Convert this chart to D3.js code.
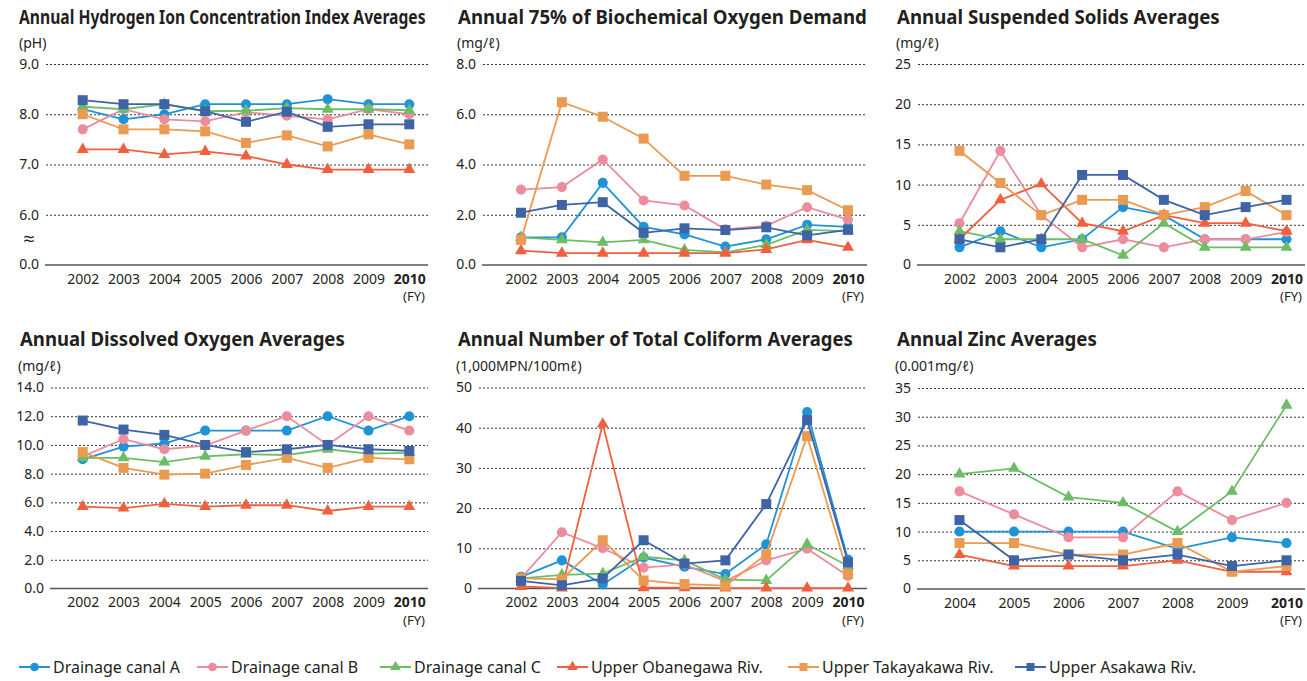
<!DOCTYPE html>
<html>
<head>
<meta charset="utf-8">
<script src="https://cdn.jsdelivr.net/npm/d3@7/dist/d3.min.js"></script>
<style>
  html, body { margin: 0; padding: 0; background: #fff; }
  svg { display: block; font-family: "Noto Sans", "Open Sans", "DejaVu Sans", sans-serif; }
</style>
</head>
<body>
<svg id="chart" width="1307" height="681"></svg>
<script>
// ---------------- DATA ----------------
const seriesNames = ["Drainage canal A", "Drainage canal B", "Drainage canal C",
  "Upper Obanegawa Riv.", "Upper Takayakawa Riv.", "Upper Asakawa Riv."];
const seriesColors = ["#1f93d6", "#ec8c9c", "#6cbd66", "#f0603f", "#eb9a52", "#3f64a5"];
const seriesShapes = ["circle", "circle", "triangle", "triangle", "square", "square"];

const years = [2002, 2003, 2004, 2005, 2006, 2007, 2008, 2009, 2010];
const zincYears = [2004, 2005, 2006, 2007, 2008, 2009, 2010];

const phTicks = [0, 6, 7, 8, 9];
const phValues = [
  [8.1, 7.9, 8.0, 8.2, 8.2, 8.2, 8.3, 8.2, 8.2],
  [7.7, 8.1, 7.9, 7.86, 8.04, 7.97, 7.9, 8.1, 8.0],
  [8.15, 8.1, 8.2, 8.06, 8.07, 8.12, 8.1, 8.1, 8.08],
  [7.3, 7.3, 7.2, 7.26, 7.17, 7.0, 6.9, 6.9, 6.9],
  [8.0, 7.7, 7.7, 7.66, 7.43, 7.58, 7.36, 7.6, 7.4],
  [8.28, 8.2, 8.2, 8.06, 7.85, 8.05, 7.75, 7.8, 7.8]
];

const bodTicks = [0, 2, 4, 6, 8];
const bodValues = [
  [1.1, 1.1, 3.27, 1.52, 1.22, 0.73, 1.02, 1.6, 1.52],
  [3.0, 3.1, 4.2, 2.57, 2.37, 1.42, 1.56, 2.3, 1.81],
  [1.1, 1.0, 0.9, 1.0, 0.6, 0.5, 0.8, 1.4, 1.35],
  [0.57, 0.47, 0.47, 0.47, 0.47, 0.47, 0.62, 1.0, 0.7],
  [1.0, 6.48, 5.9, 5.03, 3.55, 3.55, 3.2, 2.98, 2.18],
  [2.08, 2.39, 2.5, 1.28, 1.46, 1.39, 1.5, 1.18, 1.4]
];

const ssTicks = [0, 5, 10, 15, 20, 25];
const ssValues = [
  [2.2, 4.2, 2.2, 3.2, 7.2, 6.2, 3.2, 3.2, 3.2],
  [5.2, 14.2, 6.2, 2.2, 3.2, 2.2, 3.2, 3.2, 4.1],
  [4.2, 3.2, 3.2, 3.2, 1.2, 5.2, 2.2, 2.2, 2.2],
  [3.2, 8.1, 10.1, 5.2, 4.2, 6.2, 5.2, 5.2, 4.2],
  [14.2, 10.2, 6.2, 8.1, 8.1, 6.2, 7.2, 9.2, 6.2],
  [3.2, 2.2, 3.2, 11.2, 11.2, 8.1, 6.2, 7.2, 8.1]
];

const doTicks = [0, 2, 4, 6, 8, 10, 12, 14];
const doValues = [
  [9.0, 9.88, 10.1, 11.0, 11.0, 11.0, 12.0, 11.0, 12.0],
  [9.2, 10.4, 9.7, 9.95, 11.0, 12.0, 10.0, 12.0, 11.0],
  [9.1, 9.1, 8.8, 9.2, 9.35, 9.3, 9.7, 9.4, 9.45],
  [5.7, 5.6, 5.9, 5.7, 5.8, 5.8, 5.4, 5.7, 5.7],
  [9.5, 8.4, 7.93, 8.0, 8.6, 9.1, 8.4, 9.1, 9.0],
  [11.7, 11.07, 10.7, 10.0, 9.5, 9.7, 10.0, 9.7, 9.58]
];

const coliTicks = [0, 10, 20, 30, 40, 50];
const coliValues = [
  [2.9, 7.0, 1.0, 7.7, 5.4, 3.6, 11.0, 43.9, 7.2],
  [2.5, 14.0, 10.0, 5.2, 6.0, 1.8, 7.0, 9.9, 3.1],
  [2.5, 3.4, 3.7, 7.9, 7.0, 2.2, 2.0, 11.0, 5.6],
  [0.5, 0.1, 40.9, 0.2, 0.2, 0.1, 0.1, 0.1, 0.1],
  [2.5, 2.3, 12.0, 2.0, 1.1, 0.7, 8.5, 37.9, 3.6],
  [1.9, 0.8, 2.5, 12.0, 6.2, 7.0, 21.0, 41.9, 6.5]
];

const znTicks = [0, 5, 10, 15, 20, 25, 30, 35];
const znValues = [
  [10, 10, 10, 10, 7, 9, 8],
  [17, 13, 9, 9, 17, 12, 15],
  [20, 21, 16, 15, 10, 17, 32],
  [6, 4, 4, 4, 5, 3, 3],
  [8, 8, 6, 6, 8, 3, 4],
  [12, 5, 6, 5, 6, 4, 5]
];

// ---------------- LAYOUT ----------------
const panels = [
  { title: "Annual Hydrogen Ion Concentration Index Averages", titleX: 19, titleW: 407, unit: "(pH)",
    ticks: phTicks, values: phValues, years: years, fmt: d3.format(".1f"),
    gx0: 46, gx1: 428, x0: 82.7, x1: 409.3, yTop: 64, yBot: 265, row: 0, broken: true, unitX: 19 },
  { title: "Annual 75% of Biochemical Oxygen Demand", titleX: 458, titleW: 409, unit: "(mg/ℓ)",
    ticks: bodTicks, values: bodValues, years: years, fmt: d3.format(".1f"),
    gx0: 483, gx1: 867, x0: 521, x1: 848, yTop: 64, yBot: 265, row: 0, unitX: 457 },
  { title: "Annual Suspended Solids Averages", titleX: 897, titleW: 323, unit: "(mg/ℓ)",
    ticks: ssTicks, values: ssValues, years: years, fmt: d3.format("d"),
    gx0: 918, gx1: 1305, x0: 959.5, x1: 1286.5, yTop: 64, yBot: 265, row: 0, unitX: 896 },
  { title: "Annual Dissolved Oxygen Averages", titleX: 20, titleW: 325, unit: "(mg/ℓ)",
    ticks: doTicks, values: doValues, years: years, fmt: d3.format(".1f"),
    gx0: 51, gx1: 428, x0: 82.7, x1: 409.3, yTop: 387.5, yBot: 588.5, row: 1, unitX: 18 },
  { title: "Annual Number of Total Coliform Averages", titleX: 458, titleW: 395, unit: "(1,000MPN/100mℓ)",
    ticks: coliTicks, values: coliValues, years: years, fmt: d3.format("d"),
    gx0: 479, gx1: 867, x0: 521, x1: 848, yTop: 387.5, yBot: 588.5, row: 1, unitX: 456 },
  { title: "Annual Zinc Averages", titleX: 897, titleW: 200, unit: "(0.001mg/ℓ)",
    ticks: znTicks, values: znValues, years: zincYears, fmt: d3.format("d"),
    gx0: 918, gx1: 1305, x0: 959.5, x1: 1286.5, yTop: 388, yBot: 589, row: 1, unitX: 895 }
];
const rowTitleY = [24, 346];
const rowUnitY = [48, 371];

const svg = d3.select("#chart");
const textColor = "#231f20";

function symbolFor(shape) {
  if (shape === "circle") return d3.symbol().type(d3.symbolCircle).size(80);
  if (shape === "square") return d3.symbol().type(d3.symbolSquare).size(100);
  return d3.symbol().type(d3.symbolTriangle).size(62);
}

panels.forEach(p => {
  const g = svg.append("g");
  // title, horizontally condensed to the reference width
  const tg = g.append("g");
  const tt = tg.append("text").attr("x", 0).attr("y", 0)
    .attr("font-size", 19).attr("font-weight", 700).attr("fill", textColor)
    .text(p.title);
  const natural = tt.node().getComputedTextLength();
  const sx = Math.min(1, p.titleW / natural);
  tg.attr("transform", `translate(${p.titleX},${rowTitleY[p.row]}) scale(${sx},1)`);

  // unit
  g.append("text").attr("x", p.unitX).attr("y", rowUnitY[p.row])
    .attr("font-size", 14).attr("fill", textColor).text(p.unit);

  // y scale
  const maxT = p.ticks[p.ticks.length - 1];
  let y;
  if (p.broken) {
    const step = (p.yBot - p.yTop) / ((maxT - p.ticks[1]) + 1);
    y = d3.scaleLinear().domain([0, p.ticks[1], maxT])
      .range([p.yBot, p.yBot - step, p.yTop]);
  } else {
    y = d3.scaleLinear().domain([0, maxT]).range([p.yBot, p.yTop]);
  }
  const x = d3.scalePoint().domain(p.years).range([p.x0, p.x1]);

  // y axis with grid
  const yAxis = d3.axisLeft(y).tickValues(p.ticks.filter(t => t !== 0))
    .tickSize(-(p.gx1 - p.gx0)).tickPadding(7).tickFormat(p.fmt);
  const ya = g.append("g").attr("transform", `translate(${p.gx0},0)`).call(yAxis);
  ya.select(".domain").remove();
  ya.selectAll(".tick line").attr("stroke", "#333").attr("stroke-width", 1)
    .attr("stroke-dasharray", "2,2");
  ya.selectAll(".tick text").attr("font-size", 14).attr("fill", textColor)
    .attr("font-family", "'Noto Sans', sans-serif");
  // zero label + axis line
  g.append("text").attr("x", p.gx0 - 7).attr("y", y(0)).attr("dy", "0.32em")
    .attr("text-anchor", "end").attr("font-size", 14).attr("fill", textColor).text(p.fmt(0));
  g.append("line").attr("x1", p.gx0 - 1).attr("x2", p.gx1).attr("y1", y(0)).attr("y2", y(0))
    .attr("stroke", "#555").attr("stroke-width", 1.4);

  if (p.broken) {
    g.append("text").attr("x", 29).attr("y", (y(0) + y(p.ticks[1])) / 2 - 1)
      .attr("dy", "0.35em").attr("text-anchor", "middle")
      .attr("font-size", 20).attr("fill", textColor).text("≈");
  }

  // x axis labels
  const xAxis = d3.axisBottom(x).tickSize(0).tickPadding(9);
  const xa = g.append("g").attr("transform", `translate(0,${y(0)})`).call(xAxis);
  xa.select(".domain").remove();
  xa.selectAll(".tick text").attr("font-size", 14).attr("fill", textColor)
    .attr("font-family", "'Noto Sans', sans-serif")
    .attr("font-weight", d => d === 2010 ? 700 : 400);
  g.append("text").attr("x", p.gx1 - 3).attr("y", y(0) + 36)
    .attr("text-anchor", "end").attr("font-size", 13).attr("fill", textColor).text("(FY)");

  // series
  const line = d3.line().x((d, i) => x(p.years[i])).y(d => y(d));
  p.values.forEach((vals, si) => {
    const sg = g.append("g");
    sg.append("path").datum(vals).attr("d", line).attr("fill", "none")
      .attr("stroke", seriesColors[si]).attr("stroke-width", 1.8);
    sg.selectAll("path.m").data(vals).join("path").attr("class", "m")
      .attr("d", symbolFor(seriesShapes[si]))
      .attr("transform", (d, i) => `translate(${x(p.years[i])},${y(d)})`)
      .attr("fill", seriesColors[si]);
  });
});

// ---------------- LEGEND ----------------
const legendX = [19, 197, 380, 557, 788, 1015];
const legendY = 667;
seriesNames.forEach((name, i) => {
  const lg = svg.append("g").attr("transform", `translate(${legendX[i]},${legendY})`);
  lg.append("line").attr("x1", 0).attr("x2", 31).attr("y1", 0).attr("y2", 0)
    .attr("stroke", seriesColors[i]).attr("stroke-width", 2);
  const sym = seriesShapes[i] === "circle" ? d3.symbol().type(d3.symbolCircle).size(60)
    : seriesShapes[i] === "square" ? d3.symbol().type(d3.symbolSquare).size(64)
    : d3.symbol().type(d3.symbolTriangle).size(50);
  lg.append("path").attr("d", sym).attr("transform", "translate(15.5,0)").attr("fill", seriesColors[i]);
  lg.append("text").attr("x", 34).attr("y", 0).attr("dy", "0.35em")
    .attr("font-size", 16).attr("fill", textColor).text(name);
});
</script>
</body>
</html>
